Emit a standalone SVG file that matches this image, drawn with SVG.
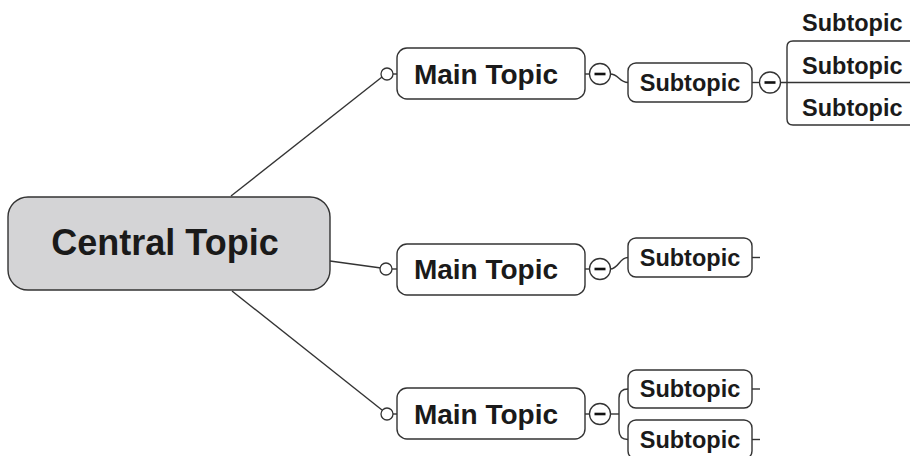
<svg xmlns="http://www.w3.org/2000/svg" width="910" height="456" viewBox="0 0 910 456">
<style>
.ln{fill:none;stroke:#333;stroke-width:1.4}
.box{fill:#fff;stroke:#333;stroke-width:1.4}
.central{fill:#d4d4d6;stroke:#333;stroke-width:1.4}
.dot{fill:#fff;stroke:#333;stroke-width:1.3}
.tx{font-family:"Liberation Sans",Arial,sans-serif;font-weight:bold;fill:#1a1a1a}
.t36{font-size:36px}
.t28{font-size:28px}
.t23{font-size:23.5px}
</style>
<defs>
<g id="minus">
<circle cx="0" cy="0" r="10.5" class="dot"/>
<rect x="-5.5" y="-1.3" width="11" height="2.6" fill="#111"/>
</g>
</defs>
<g id="connectors">
<line class="ln" x1="231" y1="196" x2="382" y2="77"/>
<line class="ln" x1="330" y1="261" x2="381" y2="268"/>
<line class="ln" x1="232" y1="291" x2="382" y2="410"/>
<line class="ln" x1="393" y1="74" x2="397" y2="74"/>
<line class="ln" x1="392" y1="269" x2="397" y2="269"/>
<line class="ln" x1="393" y1="414" x2="397" y2="414"/>
<line class="ln" x1="585" y1="74" x2="590" y2="74"/>
<line class="ln" x1="585" y1="269" x2="590" y2="269"/>
<line class="ln" x1="585" y1="414" x2="590" y2="414"/>
<path class="ln" d="M610,74 C619,74 619,82.5 628,82.5"/>
<path class="ln" d="M610,269 C619,269 619,257.5 628,257.5"/>
<path class="ln" d="M610,414 H619"/>
<path class="ln" d="M628,389 Q619,389 619,398 V430 Q619,439.5 628,439.5"/>
<line class="ln" x1="752" y1="82.5" x2="760" y2="82.5"/>
<line class="ln" x1="752" y1="257.5" x2="760" y2="257.5"/>
<line class="ln" x1="752" y1="389" x2="760" y2="389"/>
<line class="ln" x1="752" y1="439.5" x2="760" y2="439.5"/>
<path class="ln" d="M780,82.5 H910"/>
<path class="ln" d="M910,41 H793 Q787,41 787,47 V119 Q787,125 793,125 H910"/>
<circle class="dot" cx="387" cy="74" r="6"/>
<circle class="dot" cx="386" cy="269" r="6"/>
<circle class="dot" cx="387" cy="414" r="6"/>
<use href="#minus" x="600" y="74"/>
<use href="#minus" x="600" y="269"/>
<use href="#minus" x="600" y="414"/>
<use href="#minus" x="770" y="82.5"/>
</g>
<g id="central">
<rect class="central" x="8" y="197" width="322" height="93" rx="20"/>
<text class="tx t36" x="165" y="255" text-anchor="middle">Central Topic</text>
</g>
<g id="main1">
<rect class="box" x="397" y="48" width="188" height="51" rx="10"/>
<text class="tx t28" x="486" y="84" text-anchor="middle">Main Topic</text>
</g>
<g id="main2">
<rect class="box" x="397" y="244" width="188" height="51" rx="10"/>
<text class="tx t28" x="486" y="279" text-anchor="middle">Main Topic</text>
</g>
<g id="main3">
<rect class="box" x="397" y="388" width="188" height="51" rx="10"/>
<text class="tx t28" x="486" y="424" text-anchor="middle">Main Topic</text>
</g>
<g id="sub1">
<rect class="box" x="628" y="63" width="124" height="39" rx="8"/>
<text class="tx t23" x="690" y="91" text-anchor="middle">Subtopic</text>
</g>
<g id="sub2">
<rect class="box" x="628" y="238" width="124" height="39" rx="8"/>
<text class="tx t23" x="690" y="266" text-anchor="middle">Subtopic</text>
</g>
<g id="sub3a">
<rect class="box" x="628" y="370" width="124" height="38" rx="8"/>
<text class="tx t23" x="690" y="397" text-anchor="middle">Subtopic</text>
</g>
<g id="sub3b">
<rect class="box" x="628" y="420" width="124" height="39" rx="8"/>
<text class="tx t23" x="690" y="448" text-anchor="middle">Subtopic</text>
</g>
<g id="sub1a">
<text class="tx t23" x="802" y="31">Subtopic</text>
</g>
<g id="sub1b">
<text class="tx t23" x="802" y="74">Subtopic</text>
</g>
<g id="sub1c">
<text class="tx t23" x="802" y="116">Subtopic</text>
</g>
</svg>
